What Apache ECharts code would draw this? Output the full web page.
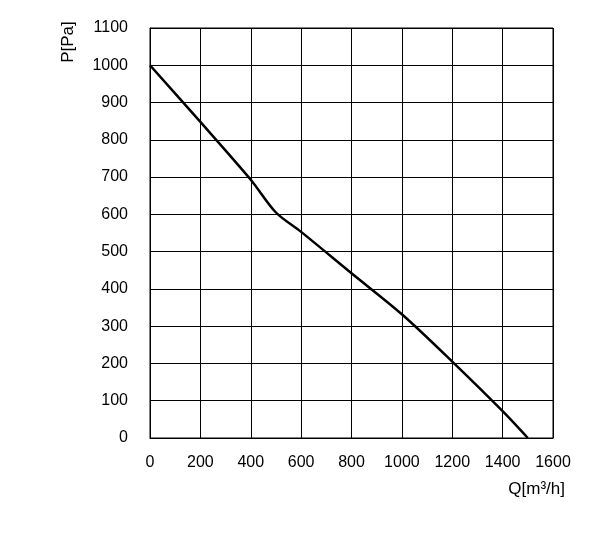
<!DOCTYPE html>
<html><head><meta charset="utf-8">
<script src="https://cdn.jsdelivr.net/npm/echarts@6/dist/echarts.min.js"></script>
<style>html,body{margin:0;padding:0;background:#fff}#c{width:591px;height:540px}</style>
</head><body><div id="c"></div>
<script>
const flowQ = [0, 200, 400, 500, 600, 800, 1000, 1200, 1400, 1500];
const pressureP = [1000, 848, 693, 605, 553, 442, 332, 205, 72, 0];
const xTicks = [0, 200, 400, 600, 800, 1000, 1200, 1400, 1600];
const yTicks = [0, 100, 200, 300, 400, 500, 600, 700, 800, 900, 1000, 1100];
const xName = 'Q[m³/h]';
const yName = 'P[Pa]';

const chart = echarts.init(document.getElementById('c'));
const font = 'Liberation Sans';
chart.setOption({
  animation: false,
  grid: { left: 150, right: 38, top: 28, bottom: 102, containLabel: false },
  xAxis: {
    type: 'value', min: xTicks[0], max: xTicks[xTicks.length - 1], interval: 200,
    axisLine: { show: true, lineStyle: { color: '#000', width: 1 } },
    axisTick: { show: false },
    splitLine: { show: true, lineStyle: { color: '#000', width: 1 } },
    axisLabel: { color: '#000', fontSize: 16, fontFamily: font, margin: 17, formatter: v => String(v) }
  },
  yAxis: {
    type: 'value', min: yTicks[0], max: yTicks[yTicks.length - 1], interval: 100,
    axisLine: { show: true, lineStyle: { color: '#000', width: 1 } },
    axisTick: { show: false },
    splitLine: { show: true, lineStyle: { color: '#000', width: 1 } },
    axisLabel: { color: '#000', fontSize: 16, fontFamily: font, margin: 22, formatter: v => String(v) }
  },
  graphic: [
    { type: 'rect', shape: { x: 150, y: 28, width: 403, height: 410 }, style: { fill: 'none', stroke: '#000', lineWidth: 1 }, silent: true, z: 10 },
    { type: 'text', x: 68, y: 42, rotation: Math.PI / 2, style: { text: yName, fill: '#000', font: '17px ' + font, textAlign: 'center', textVerticalAlign: 'middle' } },
    { type: 'text', x: 565, y: 489, style: { text: xName, fill: '#000', font: '17px ' + font, textAlign: 'right', textVerticalAlign: 'middle' } }
  ],
  series: [{
    type: 'line', data: flowQ.map((q, i) => [q, pressureP[i]]),
    showSymbol: false, smooth: 0.3,
    lineStyle: { color: '#000', width: 2.5 }
  }]
});
</script></body></html>
